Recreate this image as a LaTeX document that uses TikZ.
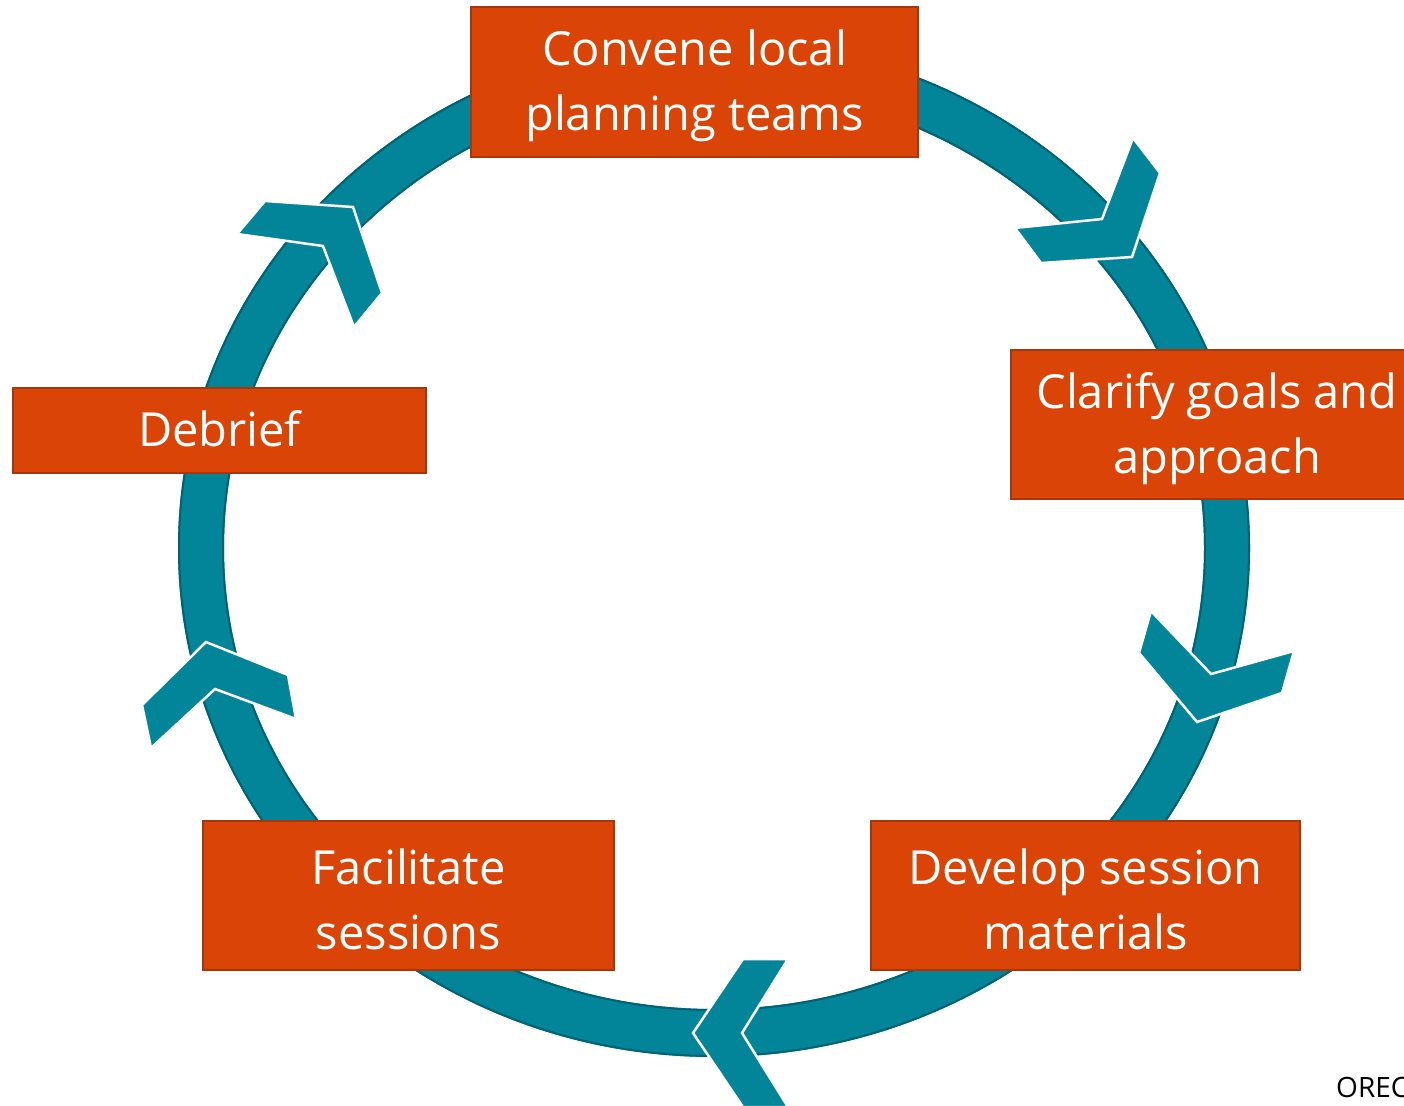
\documentclass[tikz,border=0pt]{standalone}
\usepackage{fontspec}
\setmainfont{Open Sans}
\definecolor{ringteal}{RGB}{2,132,153}
\definecolor{ringedge}{RGB}{0,98,114}
\definecolor{boxfill}{RGB}{218,68,6}
\definecolor{boxedge}{RGB}{168,54,10}
\begin{document}
\begin{tikzpicture}[x=1pt,y=-1pt,
  stepbox/.style={draw=boxedge, line width=2pt, fill=boxfill, inner sep=0pt},
  steptext/.style={text=white, font=\fontsize{47}{65}\selectfont, align=center, inner sep=0pt},
  chev/.style={fill=ringteal, draw=white, line width=2.5pt, line join=miter},
  ringline/.style={draw=ringedge, line width=2pt}]
\useasboundingbox (0,0) rectangle (1404,1105);
\clip (0,0) rectangle (1404,1105);
\fill[white] (0,0) rectangle (1404,1105);
% ring
\coordinate (c) at (714,548);
\fill[ringteal, even odd rule] (c) ellipse [x radius=536, y radius=509]
  (c) ellipse [x radius=490, y radius=461];
\path[ringline] (c) ellipse [x radius=535, y radius=508];
\path[ringline] (c) ellipse [x radius=491, y radius=462];
% chevrons
\draw[chev] (1133,138) -- (1160,173) -- (1132,257) -- (1041,263) -- (1015,228) -- (1102,219) -- cycle;
\draw[chev] (1151,611) -- (1211,674) -- (1294,651) -- (1282,693) -- (1197,722) -- (1139,653) -- cycle;
\draw[chev] (693,1033) -- (743,959) -- (788,959) -- (742,1033) -- (788,1107) -- (743,1107) -- cycle;
\draw[chev] (206,642) -- (288,675) -- (296,719) -- (215,689) -- (151,748) -- (142,705) -- cycle;
\draw[chev] (265,201) -- (353,207) -- (382,293) -- (354,327) -- (323,246) -- (237,234) -- cycle;
% boxes
\node[stepbox, minimum width=447, minimum height=149] (convene) at (694.5,82) {};
\node[stepbox, minimum width=412, minimum height=149] (clarify) at (1217,424.5) {};
\node[stepbox, minimum width=429, minimum height=149] (develop) at (1085.5,895.5) {};
\node[stepbox, minimum width=411, minimum height=149] (facilitate) at (408.5,895.5) {};
\node[stepbox, minimum width=413, minimum height=85] (debrief) at (219.5,430.5) {};
% texts
\node[steptext] (convenetext) at ([yshift=-4pt]convene.center) {Convene local\\planning teams};
\node[steptext] (clarifytext) at ([yshift=-4pt]clarify.center) {Clarify goals and\\approach};
\node[steptext] (developtext) at ([yshift=-4pt]develop.center) {Develop session\\materials};
\node[steptext] (facilitatetext) at ([yshift=-4pt]facilitate.center) {Facilitate\\sessions};
\node[steptext] (debrieftext) at ([yshift=2pt]debrief.center) {Debrief};
% source
\node[anchor=base west, inner sep=0pt, font=\fontsize{28}{32}\selectfont] (orec) at (1336,1097) {OREC};
\end{tikzpicture}
\end{document}
